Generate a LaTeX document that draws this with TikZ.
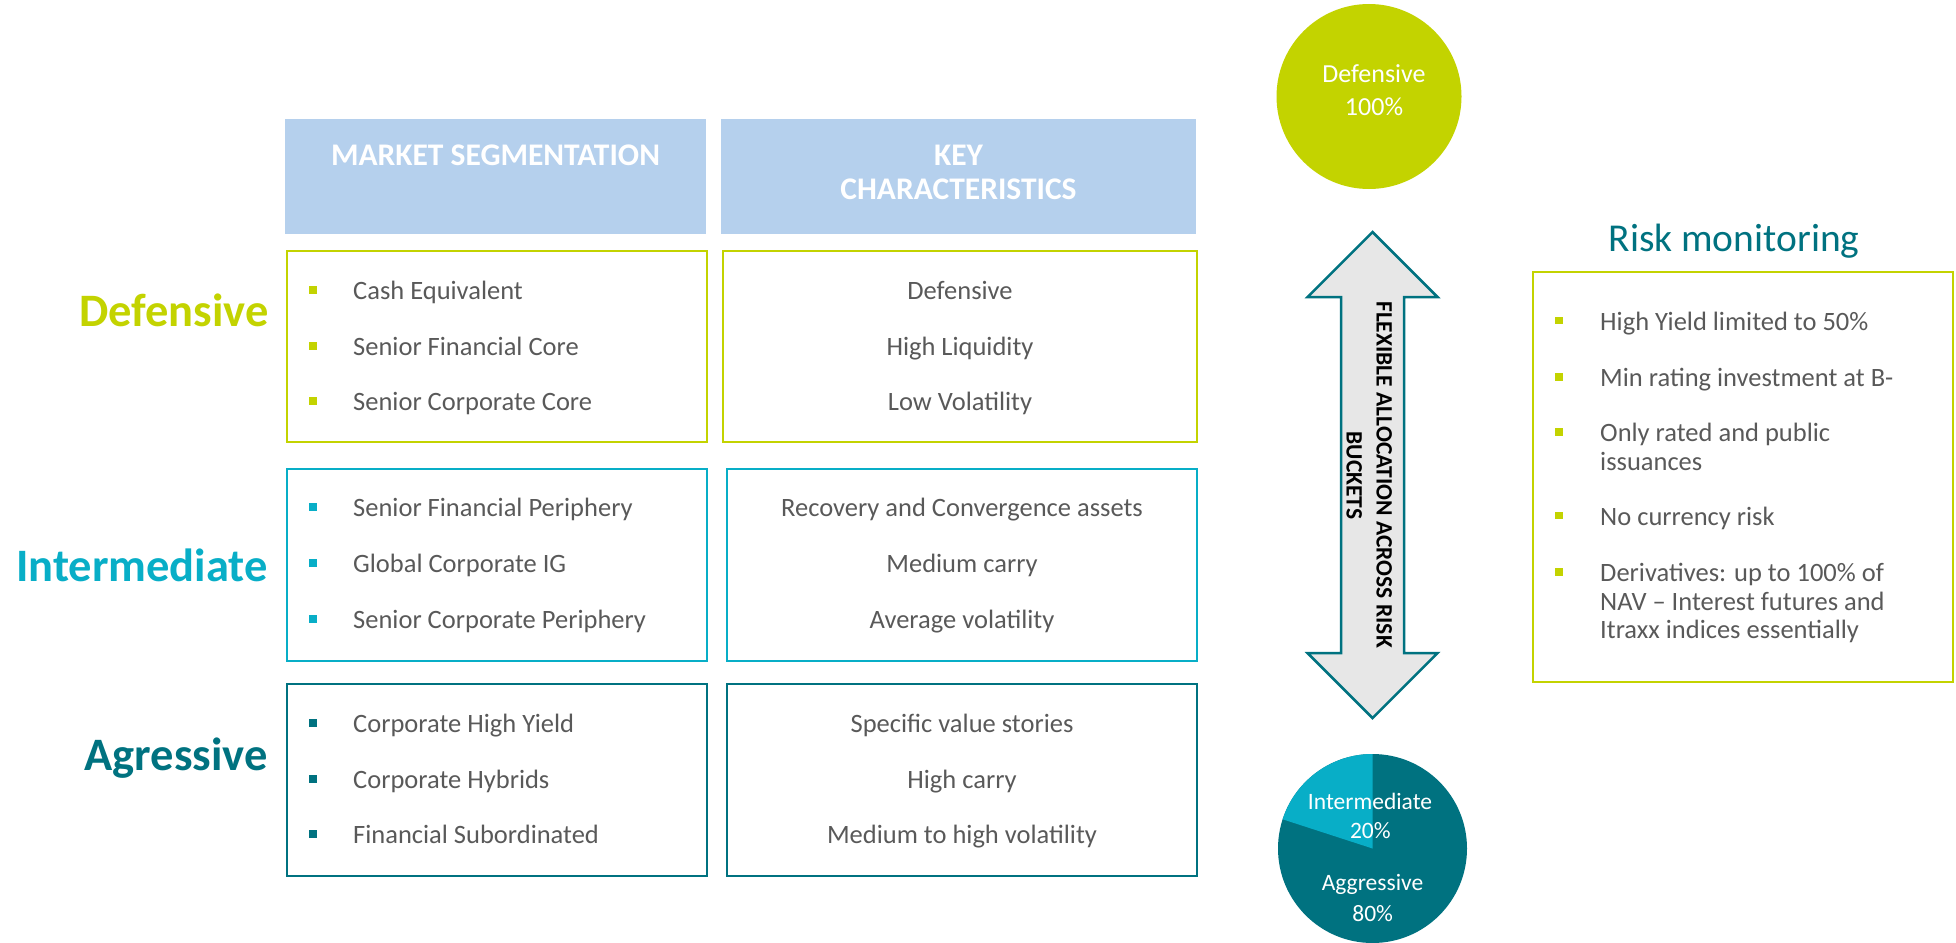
\documentclass[tikz,border=0pt]{standalone}
\usepackage{fontspec}
\setmainfont{Carlito}
\definecolor{cLime}{RGB}{195,211,0}
\definecolor{cCyan}{RGB}{8,174,199}
\definecolor{cTeal}{RGB}{0,114,128}
\definecolor{cHdr}{RGB}{181,208,237}
\definecolor{cTxt}{RGB}{89,89,89}
\definecolor{cArr}{RGB}{231,231,231}
\begin{document}
\begin{tikzpicture}[x=1pt,y=-1pt,
 catbox/.style={draw=#1, line width=2.5pt},
 hdrbox/.style={fill=cHdr},
 hdrtxt/.style={font=\fontsize{31.5}{34}\selectfont\bfseries, text=white, inner sep=0, anchor=base},
 itemtxt/.style={font=\fontsize{26.5}{28}\selectfont, text=cTxt, inner sep=0, anchor=base west},
 chartxt/.style={font=\fontsize{26.5}{28}\selectfont, text=cTxt, inner sep=0, anchor=base},
 risktxt/.style={font=\fontsize{26.5}{28}\selectfont, text=cTxt, inner sep=0, anchor=base west},
 catlabel/.style={font=\fontsize{46.5}{50}\selectfont\bfseries, text=#1, inner sep=0, anchor=base east},
 bul/.style={fill=#1, inner sep=0, minimum size=8pt},
 circtxt/.style={font=\fontsize{26}{28}\selectfont, text=white, inner sep=0, anchor=base},
 pietxt/.style={font=\fontsize{23.5}{26}\selectfont, text=white, inner sep=0, anchor=base},
 arrtxt/.style={font=\fontsize{23.5}{26}\selectfont\bfseries, text=black, inner sep=0, anchor=base, rotate=-90},
 arrshape/.style={draw=cTeal, fill=cArr, line width=2.5pt, line join=miter}
]
\useasboundingbox (0,0) rectangle (1956,942);

% headers
\fill[hdrbox] (285,119) rectangle (706,234);
\fill[hdrbox] (721,119) rectangle (1196,234);
\node[hdrtxt] (h1) at (495.5,165) {MARKET SEGMENTATION};
\node[hdrtxt] (h2a) at (958.5,165) {KEY};
\node[hdrtxt] (h2b) at (958.5,199.3) {CHARACTERISTICS};

% category boxes
\draw[catbox=cLime] (287,251) rectangle (707,442);
\draw[catbox=cLime] (723,251) rectangle (1197,442);
\draw[catbox=cCyan] (287,469) rectangle (707,661);
\draw[catbox=cCyan] (727,469) rectangle (1197,661);
\draw[catbox=cTeal] (287,684) rectangle (707,876);
\draw[catbox=cTeal] (727,684) rectangle (1197,876);

% category labels
\node[catlabel=cLime] (lDef) at (269,326.7) {Defensive};
\node[catlabel=cCyan] (lInt) at (268,581.7) {Intermediate};
\node[catlabel=cTeal] (lAgg) at (268,770) {Agressive};

% defensive items
\foreach \y/\t [count=\i] in {299.3/Cash Equivalent, 355/Senior Financial Core, 410.7/Senior Corporate Core} {
  \node[bul=cLime] (bd\i) at (313,\y-9.5) {};
  \node[itemtxt] (td\i) at (353,\y) {\t};
}
\foreach \y/\t [count=\i] in {299.3/Defensive, 355/High Liquidity, 410.7/Low Volatility} {
  \node[chartxt] (cd\i) at (960,\y) {\t};
}
% intermediate items
\foreach \y/\t [count=\i] in {516.7/Senior Financial Periphery, 572.3/Global Corporate IG, 628.3/Senior Corporate Periphery} {
  \node[bul=cCyan] (bi\i) at (313,\y-9.5) {};
  \node[itemtxt] (ti\i) at (353,\y) {\t};
}
\foreach \y/\t [count=\i] in {516.7/Recovery and Convergence assets, 572.3/Medium carry, 628.3/Average volatility} {
  \node[chartxt] (ci\i) at (962,\y) {\t};
}
% aggressive items
\foreach \y/\t [count=\i] in {732.7/Corporate High Yield, 788.3/Corporate Hybrids, 843.3/Financial Subordinated} {
  \node[bul=cTeal] (ba\i) at (313,\y-9.5) {};
  \node[itemtxt] (ta\i) at (353,\y) {\t};
}
\foreach \y/\t [count=\i] in {732.7/Specific value stories, 788.3/High carry, 843.3/Medium to high volatility} {
  \node[chartxt] (ca\i) at (962,\y) {\t};
}

% defensive circle
\fill[cLime] (1369,96.5) circle (92.5);
\node[circtxt] (c1) at (1374,82.3) {Defensive};
\node[circtxt] (c2) at (1374,115.7) {100\%};

% double arrow
\draw[arrshape] (1372.5,232) -- (1437.5,297) -- (1404,297) -- (1404,653) -- (1437.5,653)
  -- (1372.5,718) -- (1307.5,653) -- (1341,653) -- (1341,297) -- (1307.5,297) -- cycle;
\node[arrtxt] (a1) at (1376.7,474.5) {FLEXIBLE ALLOCATION ACROSS RISK};
\node[arrtxt] (a2) at (1346.7,475.5) {BUCKETS};

% pie
\fill[cTeal] (1372.5,848.5) circle (94.5);
\fill[cCyan] (1372.5,848.5) -- ++(-90:94.5) arc[start angle=-90, end angle=-162, radius=94.5] -- cycle;
\node[pietxt] (p1) at (1370,809.3) {Intermediate};
\node[pietxt] (p2) at (1370.3,838.3) {20\%};
\node[pietxt] (p3) at (1372.5,890.7) {Aggressive};
\node[pietxt] (p4) at (1372.7,921) {80\%};

% risk monitoring
\node[font=\fontsize{39.5}{42}\selectfont, text=cTeal, inner sep=0, anchor=base] (rt) at (1734,251.7) {Risk monitoring};
\draw[catbox=cLime] (1533,272) rectangle (1953,682);
\foreach \y [count=\i] in {330,386.7,441.7,525,581.7} {
  \node[bul=cLime, minimum size=7.5pt] (br\i) at (1559.2,\y-9.7) {};
}
\node[risktxt] (r1) at (1600,330) {High Yield limited to 50\%};
\node[risktxt] (r2) at (1600,386.7) {Min rating investment at B-};
\node[risktxt] (r3a) at (1600,441.7) {Only rated and public};
\node[risktxt] (r3b) at (1600,470) {issuances};
\node[risktxt] (r4) at (1600,525) {No currency risk};
\node[risktxt] (r5a) at (1600,581.7) {Derivatives: up to 100\% of};
\node[risktxt] (r5b) at (1600,610) {NAV -- Interest futures and};
\node[risktxt] (r5c) at (1600,638.3) {Itraxx indices essentially};
\end{tikzpicture}
\end{document}
